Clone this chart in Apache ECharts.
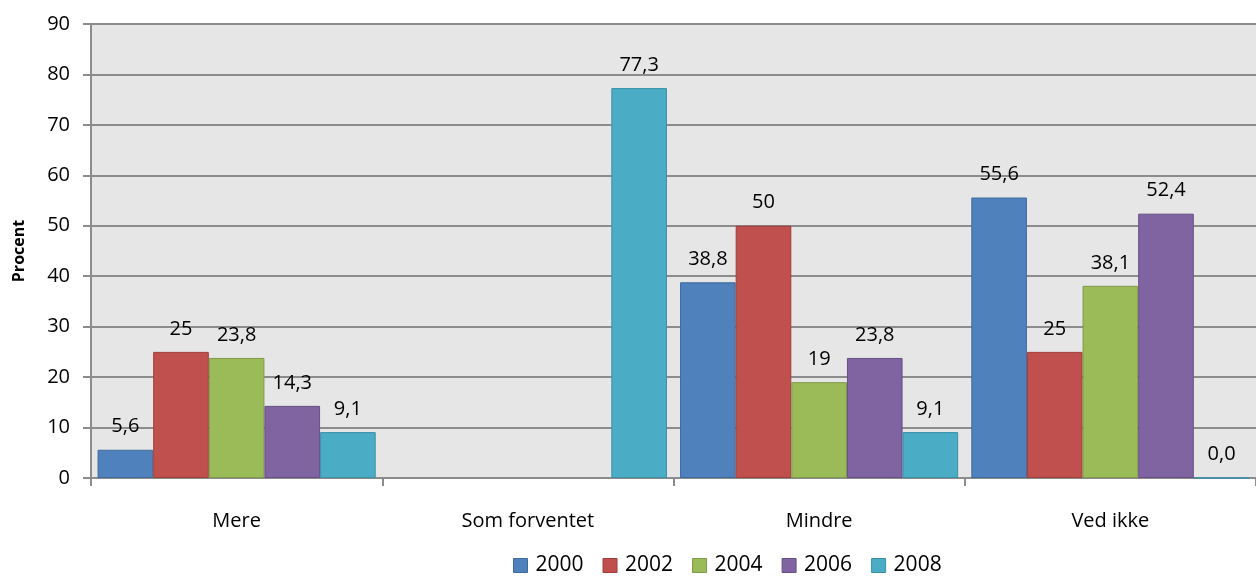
<!DOCTYPE html>
<html>
<head>
<meta charset="utf-8">
<script src="https://cdn.jsdelivr.net/npm/echarts@6/dist/echarts.min.js"></script>
<style>
  html, body { margin: 0; padding: 0; background: #fff; }
  #chart { width: 1256px; height: 581px; }
</style>
</head>
<body>
<div id="chart"></div>
<script>
var categories = ['Mere', 'Som forventet', 'Mindre', 'Ved ikke'];
var years = ['2000', '2002', '2004', '2006', '2008'];
var s2000 = [5.6, null, 38.8, 55.6];
var s2002 = [25, null, 50, 25];
var s2004 = [23.8, null, 19, 38.1];
var s2006 = [14.3, null, 23.8, 52.4];
var s2008 = [9.1, 77.3, 9.1, 0.0];
var colors = ['#4f81bd', '#c0504d', '#9bbb59', '#8064a2', '#4bacc6'];
var borders = ['#3f6b9e', '#9e3d3a', '#7f9a48', '#664f85', '#3a8fa6'];

var font = 'Open Sans';
var allData = [s2000, s2002, s2004, s2006, s2008];

// labels use comma decimals; zero shown as 0,0
function fmt(p) {
  var v = p.value;
  if (v === 0) return '0,0';
  return String(v).replace('.', ',');
}

var series = years.map(function (y, i) {
  return {
    name: y,
    type: 'bar',
    data: allData[i],
    barGap: '0%',
    barCategoryGap: '4.5%',
    itemStyle: { color: colors[i], borderColor: borders[i], borderWidth: 1 },
    label: {
      show: true,
      position: 'top',
      distance: 13,
      formatter: fmt,
      color: '#000',
      fontFamily: font,
      fontSize: 20
    }
  };
});

var chart = echarts.init(document.getElementById('chart'));
chart.setOption({
  animation: false,
  color: colors,
  grid: { left: 91, right: 0, top: 24, bottom: 103, show: true, backgroundColor: '#e6e6e6', borderWidth: 0 },
  legend: {
    bottom: 0,
    left: 508,
    itemWidth: 14,
    itemHeight: 14,
    itemGap: 19,
    icon: 'rect',
    textStyle: { fontFamily: font, fontSize: 21, color: '#000', padding: [0, 0, 0, 3] },
    data: years.map(function (y, i) {
      return { name: y, itemStyle: { borderColor: borders[i], borderWidth: 1 } };
    })
  },
  xAxis: {
    type: 'category',
    data: categories,
    axisLine: { lineStyle: { color: '#8c8c8c', width: 2 } },
    axisTick: { show: true, length: 8, lineStyle: { color: '#8c8c8c', width: 2 } },
    axisLabel: { margin: 33, fontFamily: font, fontSize: 20, color: '#000' }
  },
  yAxis: {
    type: 'value',
    min: 0,
    max: 90,
    interval: 10,
    name: 'Procent',
    nameLocation: 'middle',
    nameGap: 64,
    nameTextStyle: { fontFamily: font, fontSize: 16, fontWeight: 'bold', color: '#000' },
    axisLine: { show: true, lineStyle: { color: '#8c8c8c', width: 2 } },
    axisTick: { show: true, length: 8, lineStyle: { color: '#8c8c8c', width: 2 } },
    splitLine: { lineStyle: { color: '#8c8c8c', width: 2 } },
    axisLabel: { margin: 21, fontFamily: font, fontSize: 20, color: '#000' }
  },
  series: series
});
</script>
</body>
</html>
